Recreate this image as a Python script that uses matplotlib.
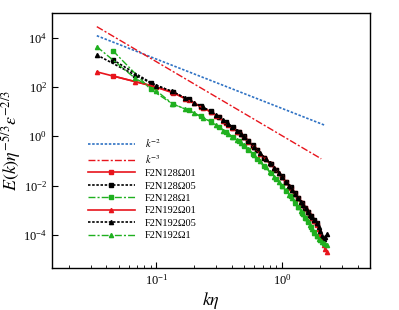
import matplotlib
matplotlib.use("Agg")
import matplotlib.pyplot as plt
from matplotlib.ticker import LogLocator, NullLocator

plt.rcParams['font.family'] = ['Liberation Serif', 'DejaVu Serif']
plt.rcParams['mathtext.fontset'] = 'stix'

# wavenumbers (k*eta) for the two grids
k192 = [0.0335, 0.067, 0.1, 0.134, 0.168, 0.2, 0.235, 0.27, 0.3, 0.34, 0.37, 0.4, 0.44, 0.47,
        0.5, 0.54, 0.6, 0.67, 0.74, 0.8, 0.87, 0.94, 1.0, 1.07, 1.14, 1.2, 1.27, 1.34, 1.41,
        1.48, 1.54, 1.61, 1.68, 1.74, 1.81, 1.88, 1.95, 2.01, 2.08, 2.15, 2.21, 2.28]
k128 = [0.045, 0.09, 0.135, 0.18, 0.225, 0.27, 0.315, 0.36, 0.405, 0.45, 0.495, 0.54, 0.585,
        0.63, 0.72, 0.81, 0.9, 0.99, 1.08, 1.17, 1.26, 1.35, 1.44, 1.53, 1.62, 1.71, 1.8, 1.89]

E128_01 = [280, 115, 58, 30, 16, 9.8, 5.8, 3.6, 2.2, 1.45, 0.95, 0.62, 0.42, 0.28, 0.13, 0.075,
           0.042, 0.023, 0.0135, 0.0082, 0.0049, 0.003, 0.0019, 0.0012, 0.00082, 0.00056,
           0.00038, 0.00026]
E128_05 = [1260, 150, 62, 31.5, 16.8, 10.3, 6.1, 3.8, 2.3, 1.52, 1.0, 0.65, 0.44, 0.29, 0.135,
           0.078, 0.044, 0.024, 0.014, 0.0086, 0.0051, 0.0031, 0.002, 0.00125, 0.00086, 0.00058,
           0.0004, 0.00029]
E128_1 = [2950, 80, 20, 11.5, 6.5, 4.0, 2.4, 1.5, 0.92, 0.62, 0.42, 0.28, 0.19, 0.125, 0.06,
          0.033, 0.019, 0.01, 0.006, 0.0037, 0.0022, 0.0013, 0.0008, 0.0005, 0.00032, 0.0002,
          0.00013, 9e-5]

E192_01 = [410, 166, 99, 62, 34, 21.4, 14.1, 9.8, 6.9, 4.2, 3.0, 2.24, 1.55, 1.19, 0.90, 0.61,
           0.36, 0.20, 0.122, 0.082, 0.052, 0.032, 0.0218, 0.0143, 0.0096, 0.0068, 0.0046,
           0.0031, 0.0022, 0.00156, 0.00118, 0.00086, 0.00064, 0.0005, 0.00038, 0.00029,
           0.00018, 0.00011, 6.5e-5, 3.8e-5, 2.6e-5, 2.0e-5]
E192_05 = [2000, 310, 112, 66, 36, 22.5, 14.8, 10.2, 7.2, 4.4, 3.1, 2.3, 1.6, 1.22, 0.93, 0.63,
           0.37, 0.21, 0.125, 0.084, 0.053, 0.033, 0.0222, 0.0146, 0.0098, 0.0069, 0.0047,
           0.0032, 0.00225, 0.0016, 0.0012, 0.00088, 0.00066, 0.00052, 0.0004, 0.0003,
           0.0002, 0.00014, 9e-5, 7e-5, 8e-5, 1.1e-4]
E192_1 = [4300, 234, 70, 21, 13, 8.5, 5.6, 3.9, 2.8, 1.7, 1.25, 0.95, 0.68, 0.54, 0.44, 0.30,
          0.17, 0.095, 0.055, 0.036, 0.023, 0.014, 0.0095, 0.0064, 0.0043, 0.003, 0.002,
          0.0014, 0.00095, 0.00068, 0.0005, 0.00036, 0.00026, 0.00018, 0.00012, 9e-5, 7e-5,
          6e-5, 5e-5, 4.5e-5, 4.2e-5, 3.8e-5]

# reference slopes, end points only
ref2_k = [0.0335, 2.19]
ref2_E = [1.2e4, 2.8]
ref3_k = [0.0335, 2.05]
ref3_E = [2.8e4, 0.122]

red = '#e8141c'
green = '#1fb01f'
blue = '#2f72c4'
dot = (0, (1.5, 1.0))
dashdot = (0, (5, 1.5, 1.5, 1.5))

fig = plt.figure(figsize=(3.99, 3.10), dpi=100)
ax = fig.add_axes([0.130, 0.135, 0.797, 0.823])

ax.plot(ref2_k, ref2_E, color=blue, ls=dot, lw=1.2, label='$k^{-2}$')
ax.plot(ref3_k, ref3_E, color=red, ls=dashdot, lw=1.0, label='$k^{-3}$')

ms = 3.0
ax.plot(k128, E128_01, color=red, ls='-', lw=1.2, marker='s', ms=ms, label='F2N128Ω01')
ax.plot(k128, E128_05, color='black', ls=dot, lw=1.2, marker='s', ms=ms, label='F2N128Ω05')
ax.plot(k128, E128_1, color=green, ls=dashdot, lw=1.0, marker='s', ms=ms, label='F2N128Ω1')
ax.plot(k192, E192_01, color=red, ls='-', lw=1.2, marker='^', ms=ms, label='F2N192Ω01')
ax.plot(k192, E192_05, color='black', ls=dot, lw=1.2, marker='^', ms=ms, label='F2N192Ω05')
ax.plot(k192, E192_1, color=green, ls=dashdot, lw=1.0, marker='^', ms=ms, label='F2N192Ω1')

ax.set_xscale('log')
ax.set_yscale('log')
ax.set_xlim(0.0147, 5.0)
ax.set_ylim(10**-5.35, 10**5.0)
ax.set_yticks([1e-4, 1e-2, 1, 1e2, 1e4])
ax.yaxis.set_minor_locator(NullLocator())
ax.xaxis.set_minor_locator(LogLocator(base=10, subs=range(2, 10)))
ax.tick_params(which='both', direction='in', labelsize=9)
ax.tick_params(which='major', length=4)
ax.tick_params(which='minor', length=2)
for s in ax.spines.values():
    s.set_linewidth(1.0)

ax.set_xlabel(r'$k\eta$', fontsize=13, labelpad=2)
ax.set_ylabel(r'$E(k)\eta^{-5/3}\epsilon^{-2/3}$', fontsize=13, labelpad=0)

ax.legend(loc='upper left', bbox_to_anchor=(0.113, 0.515), frameon=False, fontsize=7.5,
          handlelength=4.5, handletextpad=1.0, labelspacing=0.3, borderpad=0,
          borderaxespad=0, numpoints=1)

fig.savefig('out.png', dpi=100)
